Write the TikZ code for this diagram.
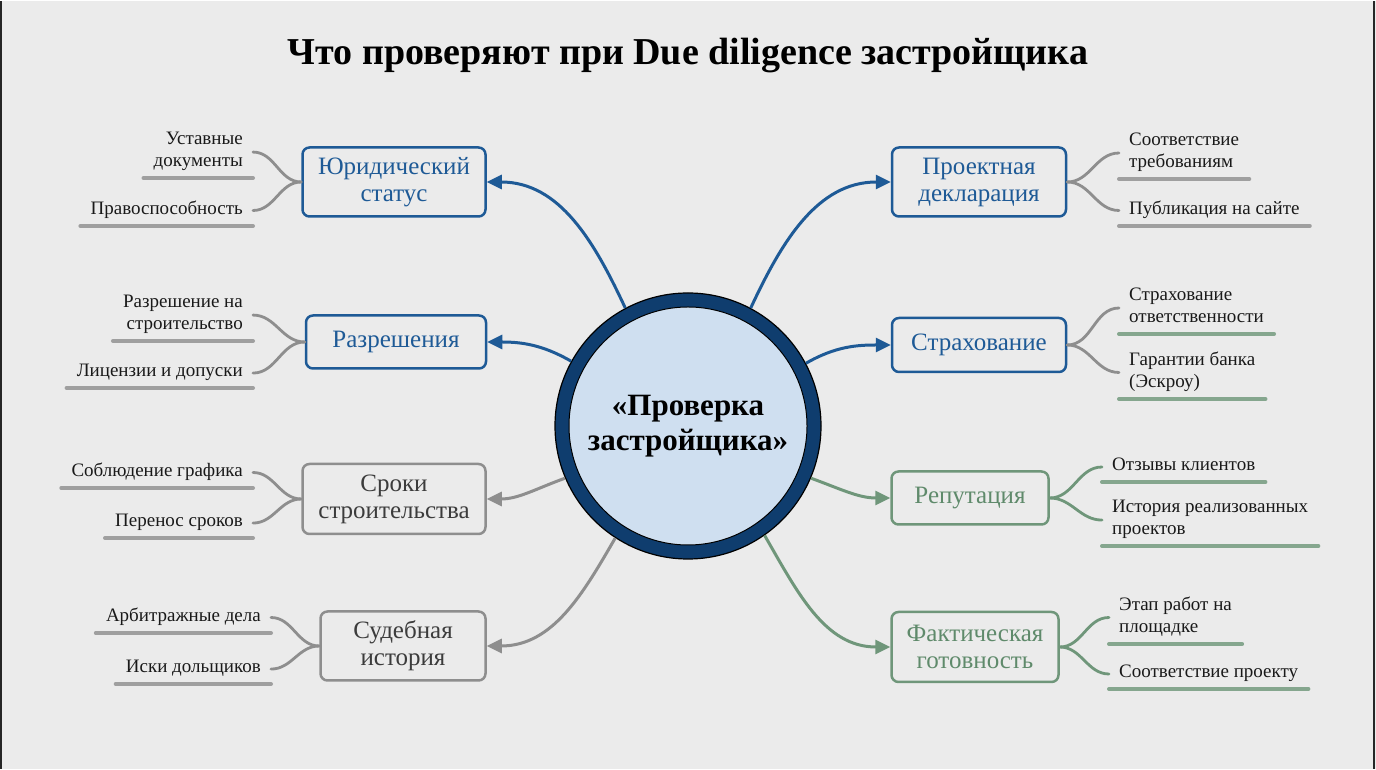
\documentclass[tikz,border=0pt]{standalone}
\usepackage{fontspec}
\setmainfont{Liberation Serif}
\usetikzlibrary{arrows.meta,positioning}

\definecolor{bgcol}{HTML}{EBEBEB}
\definecolor{navy}{HTML}{0F3D6E}
\definecolor{corefill}{HTML}{CFDFF0}
\definecolor{topblue}{HTML}{1E5A96}
\definecolor{midgray}{HTML}{8E8E8E}
\definecolor{txtgray}{HTML}{3C3C3C}
\definecolor{leaf}{HTML}{6F967A}
\definecolor{leaftext}{HTML}{5F8A6B}

\tikzset{
  branch/.style={draw, rounded corners=7pt, line width=2.5pt, align=center,
    font=\fontsize{25}{27}\selectfont, minimum height=53pt, inner sep=4pt},
  bluebox/.style={branch, draw=topblue, text=topblue},
  graybox/.style={branch, draw=midgray, text=txtgray},
  greenbox/.style={branch, draw=leaf, text=leaftext},
  leftitem/.style={anchor=south east, align=right, font=\fontsize{19}{22}\selectfont,
    inner xsep=10pt, inner ysep=3pt, text depth=5pt, text=black!90},
  rightitem/.style={leftitem, anchor=south west, align=left},
  uline/.style={line width=4pt, line cap=round, midgray!85},
  gline/.style={uline, leaf!85},
  twig/.style={line width=2.8pt, line cap=round, midgray},
  spoke/.style={line width=3pt, ->},
}

\begin{document}
\begin{tikzpicture}[x=1pt, y=1pt, line join=round, >={Triangle[length=15pt,width=14pt]}]
\fill[bgcol] (0,0) rectangle (1376,768);
\draw[line width=2pt, black!85] (1,0) -- (1,768);
\draw[line width=2pt, black!85] (1374,0) -- (1374,768);

% title
\node[font=\bfseries\fontsize{38}{42}\selectfont] (title) at (688,713) {Что проверяют при Due diligence застройщика};

% centre
\node[circle, fill=navy, draw=black, line width=1.2pt, minimum size=266pt] (ring) at (688,343) {};
\node[circle, fill=corefill, draw=black, line width=1pt, minimum size=238pt, align=center,
  font=\bfseries\fontsize{31}{35}\selectfont] (core) at (ring.center) {«Проверка\\застройщика»};

% branches
\node[bluebox, minimum width=183pt, minimum height=69pt] (jur) at (394,587) {Юридический\\статус};
\node[bluebox, minimum width=180pt] (razr) at (396,427) {Разрешения};
\node[graybox, minimum width=183pt, minimum height=70pt] (srok) at (394,270) {Сроки\\строительства};
\node[graybox, minimum width=165pt, minimum height=69pt] (sud) at (403,123) {Судебная\\история};
\node[bluebox, minimum width=174pt, minimum height=69pt] (proj) at (979,587) {Проектная\\декларация};
\node[bluebox, minimum width=174pt, minimum height=54pt] (strah) at (979,424) {Страхование};
\node[greenbox, minimum width=157pt] (rep) at (970,271) {Репутация};
\node[greenbox, minimum width=167pt, minimum height=70pt] (fact) at (975,122) {Фактическая\\готовность};

% spokes
\draw[spoke, topblue] (ring.118) to[out=115, in=0] (jur.east);
\draw[spoke, topblue] (ring.151) to[out=150, in=0] (razr.east);
\draw[spoke, midgray] (ring.203) to[out=200, in=0] (srok.east);
\draw[spoke, midgray] (ring.237) to[out=240, in=0] (sud.east);
\draw[spoke, topblue] (ring.62) to[out=65, in=180] (proj.west);
\draw[spoke, topblue] (ring.28) to[out=30, in=180] (strah.west);
\draw[spoke, leaf] (ring.-23) to[out=-20, in=180] (rep.west);
\draw[spoke, leaf] (ring.-55) to[out=-60, in=180] (fact.west);

% left items
\node[leftitem] (ust) at (253,594) {Уставные\\документы};
\node[leftitem] (prav) at (253,546) {Правоспособность};
\node[leftitem] (razrstr) at (253,431) {Разрешение на\\строительство};
\node[leftitem] (lic) at (253,384) {Лицензии и допуски};
\node[leftitem] (sobl) at (253,284) {Соблюдение графика};
\node[leftitem] (pere) at (253,234) {Перенос сроков};
\node[leftitem] (arb) at (271,139) {Арбитражные дела};
\node[leftitem] (isk) at (271,88) {Иски дольщиков};

% right items
\node[rightitem] (sootv) at (1119,593) {Соответствие\\требованиям};
\node[rightitem] (publ) at (1119,546) {Публикация на сайте};
\node[rightitem] (strotv) at (1119,438) {Страхование\\ответственности};
\node[rightitem] (gar) at (1119,373) {Гарантии банка\\(Эскроу)};
\node[rightitem] (otz) at (1102,290) {Отзывы клиентов};
\node[rightitem] (ist) at (1102,226) {История реализованных\\проектов};
\node[rightitem] (etap) at (1109,128) {Этап работ на\\площадке};
\node[rightitem] (sootvpr) at (1109,83) {Соответствие проекту};

% underlines
\foreach \n in {ust,prav,razrstr,lic,sobl,pere,arb,isk,sootv,publ}
  \draw[uline] ([yshift=-3pt]\n.south west) -- ([yshift=-3pt]\n.south east);
\foreach \n in {strotv,gar,otz,ist,etap,sootvpr}
  \draw[gline] ([yshift=-3pt]\n.south west) -- ([yshift=-3pt]\n.south east);

% twigs
\draw[twig] (jur.west) to[out=180, in=0] (ust.east);
\draw[twig] (jur.west) to[out=180, in=0] (prav.east);
\draw[twig] (razr.west) to[out=180, in=0] (razrstr.east);
\draw[twig] (razr.west) to[out=180, in=0] (lic.east);
\draw[twig] (srok.west) to[out=180, in=0] (sobl.east);
\draw[twig] (srok.west) to[out=180, in=0] (pere.east);
\draw[twig] (sud.west) to[out=180, in=0] (arb.east);
\draw[twig] (sud.west) to[out=180, in=0] (isk.east);
\draw[twig] (proj.east) to[out=0, in=180] (sootv.west);
\draw[twig] (proj.east) to[out=0, in=180] (publ.west);
\draw[twig] (strah.east) to[out=0, in=180] (strotv.west);
\draw[twig] (strah.east) to[out=0, in=180] (gar.west);
\draw[twig, leaf] (rep.east) to[out=0, in=180] (otz.west);
\draw[twig, leaf] (rep.east) to[out=0, in=180] (ist.west);
\draw[twig, leaf] (fact.east) to[out=0, in=180] (etap.west);
\draw[twig, leaf] (fact.east) to[out=0, in=180] (sootvpr.west);
\end{tikzpicture}
\end{document}
